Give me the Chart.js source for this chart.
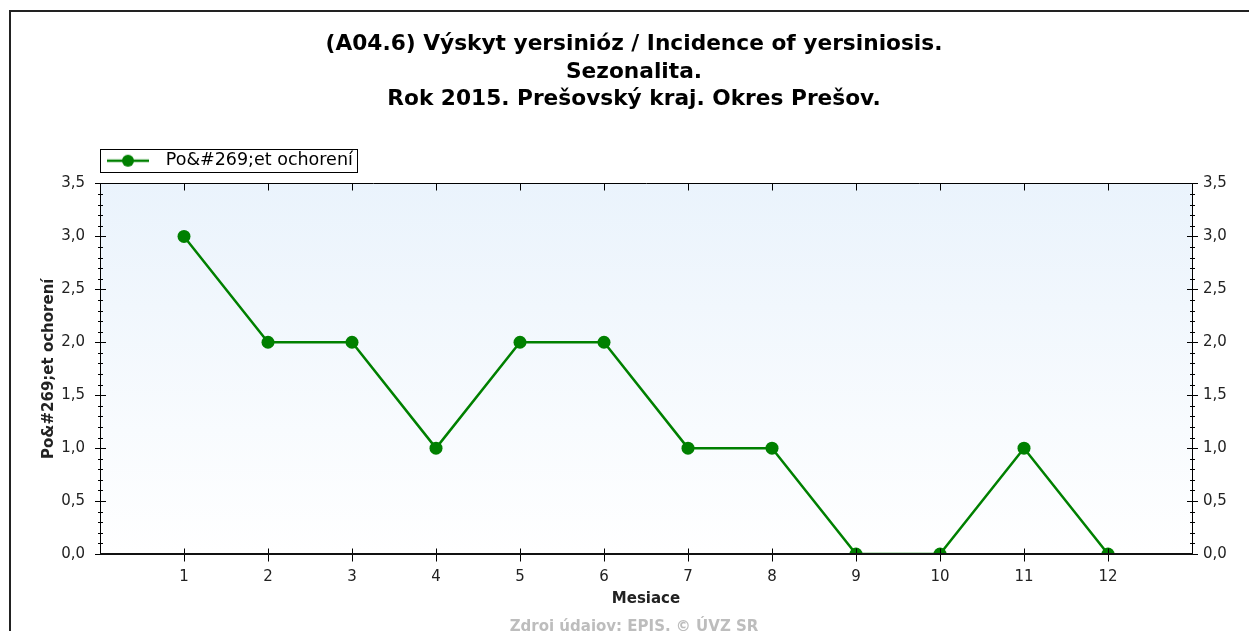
<!DOCTYPE html>
<html><head><meta charset="utf-8">
<script src="https://cdn.jsdelivr.net/npm/chart.js@4.4.1/dist/chart.umd.min.js"></script>
<style>html,body{margin:0;padding:0;background:#fff;overflow:hidden}</style>
</head><body>
<canvas id="c" width="1249" height="631"></canvas>
<script>
const titleLines = ['(A04.6) Výskyt yersinióz / Incidence of yersiniosis.', 'Sezonalita.', 'Rok 2015. Prešovský kraj. Okres Prešov.'];
const seriesName = 'Po&#269;et ochorení';
const months = [1, 2, 3, 4, 5, 6, 7, 8, 9, 10, 11, 12];
const cases = [3, 2, 2, 1, 2, 2, 1, 1, 0, 0, 1, 0];
const yMin = 0, yMax = 3.5, yStep = 0.5, yMinorStep = 0.1;
const xTitle = 'Mesiace';
const yTitle = 'Po&#269;et ochorení';
const footer = 'Zdroj údajov: EPIS. © ÚVZ SR';

const GREEN = '#008000';
const labels = [''].concat(months.map(String), ['']);
const values = [null].concat(cases, [null]);
const fmt = v => Number(v).toFixed(1).replace('.', ',');

Chart.defaults.font.family = "'DejaVu Sans', sans-serif";

// legend marker: line with a dot
const mk = document.createElement('canvas');
mk.width = 50; mk.height = 14;
(function () {
  const m = mk.getContext('2d');
  m.strokeStyle = GREEN; m.lineWidth = 2.5;
  m.beginPath(); m.moveTo(0, 7); m.lineTo(42, 7); m.stroke();
  m.fillStyle = GREEN; m.beginPath(); m.arc(21, 7, 6, 0, Math.PI * 2); m.fill();
})();

const frame = {
  id: 'frame',
  afterLayout(chart) {
    const lg = chart.legend;
    if (!lg) return;
    const pad = lg.options.labels.padding;
    const dx = chart.chartArea.left + 7 - (lg.left + pad);
    lg.left += dx; lg.right += dx;
    if (lg.legendHitBoxes) lg.legendHitBoxes.forEach(h => { h.left += dx; });
  },
  beforeDraw(chart) {
    const { ctx, width, height, chartArea: a } = chart;
    ctx.save();
    ctx.fillStyle = '#fff'; ctx.fillRect(0, 0, width, height);
    const g = ctx.createLinearGradient(0, a.top, 0, a.bottom);
    g.addColorStop(0, '#eaf3fc'); g.addColorStop(1, '#ffffff');
    ctx.fillStyle = g; ctx.fillRect(a.left, a.top, a.right - a.left, a.bottom - a.top);
    ctx.strokeStyle = '#222'; ctx.lineWidth = 2;
    ctx.beginPath(); ctx.moveTo(10, height + 5); ctx.lineTo(10, 11); ctx.lineTo(width + 5, 11); ctx.stroke();
    ctx.restore();
  },
  afterDatasetsDraw(chart) {
    const { ctx, chartArea: a, scales } = chart;
    const L = Math.round(a.left) + 0.5, R = Math.round(a.right) + 0.5;
    const T = Math.round(a.top) + 0.5, B = Math.round(a.bottom) + 0.5;
    ctx.save();
    ctx.strokeStyle = '#000'; ctx.lineWidth = 1;
    ctx.beginPath();
    ctx.moveTo(L, T); ctx.lineTo(R, T); ctx.lineTo(R, B); ctx.lineTo(L, B); ctx.closePath();
    const n = Math.round((yMax - yMin) / yMinorStep);
    const per = Math.round(yStep / yMinorStep);
    for (let k = 0; k <= n; k++) {
      const v = yMin + k * yMinorStep;
      const py = Math.round(scales.y.getPixelForValue(v)) + 0.5;
      const major = k % per === 0;
      const o = major ? 5.5 : 2.5;
      ctx.moveTo(L - o, py); ctx.lineTo(L + o, py);
      ctx.moveTo(R - o, py); ctx.lineTo(R + o, py);
    }
    for (let i = 1; i <= months.length; i++) {
      const px = Math.round(scales.x.getPixelForValue(i)) + 0.5;
      ctx.moveTo(px, B - 6); ctx.lineTo(px, B + 7);
      ctx.moveTo(px, T); ctx.lineTo(px, T + 7);
    }
    ctx.stroke();
    // heavier base line (covers marks lying on zero)
    ctx.lineWidth = 2;
    ctx.strokeStyle = '#111';
    ctx.beginPath();
    ctx.moveTo(L - 0.5, Math.round(a.bottom)); ctx.lineTo(R + 0.5, Math.round(a.bottom));
    ctx.stroke();
    ctx.restore();
  },
  afterDraw(chart) {
    const lg = chart.legend;
    if (!lg || !lg.options.display) return;
    const { ctx } = chart;
    const lo = lg.options.labels;
    const font = Chart.helpers.toFont(lo.font);
    ctx.save();
    ctx.font = font.string;
    const tw = ctx.measureText(seriesName).width;
    const x0 = lg.left + lo.padding;
    const cy = lg.top + lo.padding + font.size / 2;
    const left = chart.chartArea.left;
    const right = x0 + lo.pointStyleWidth + font.size / 2 + tw + 4;
    ctx.strokeStyle = '#000'; ctx.lineWidth = 1;
    ctx.strokeRect(Math.round(left) + 0.5, Math.round(cy - 11.5) + 0.5, Math.round(right - left), 23);
    ctx.restore();
  }
};

new Chart(document.getElementById('c'), {
  type: 'line',
  data: {
    labels: labels,
    datasets: [{
      label: seriesName,
      data: values,
      borderColor: GREEN,
      backgroundColor: GREEN,
      borderWidth: 2.5,
      pointRadius: 6.5,
      pointHoverRadius: 6.5,
      pointBackgroundColor: GREEN,
      pointBorderWidth: 0,
      tension: 0,
      clip: 0,
      fill: false
    }]
  },
  options: {
    responsive: false,
    animation: false,
    devicePixelRatio: 1,
    events: [],
    layout: { padding: { left: 19, right: 0, top: 10, bottom: -5.5 } },
    plugins: {
      tooltip: { enabled: false },
      title: {
        display: true,
        text: titleLines,
        color: '#000',
        font: { size: 21.7, weight: 'bold', lineHeight: 1.267 },
        padding: { top: 21, bottom: 30.5 }
      },
      subtitle: {
        display: true,
        position: 'bottom',
        text: footer,
        color: '#bdbdbd',
        font: { size: 15, weight: 'bold', lineHeight: 1.2 },
        padding: { top: 4, bottom: 0 }
      },
      legend: {
        display: true,
        position: 'top',
        align: 'start',
        labels: {
          color: '#000',
          font: { size: 17.5 },
          padding: 8,
          usePointStyle: true,
          pointStyleWidth: 50,
          generateLabels(chart) {
            const items = Chart.defaults.plugins.legend.labels.generateLabels(chart);
            items.forEach(it => { it.pointStyle = mk; it.lineWidth = 0; });
            return items;
          }
        }
      }
    },
    scales: {
      x: {
        type: 'category',
        position: 'bottom',
        grid: { display: false, drawTicks: false },
        border: { display: false },
        ticks: { color: '#222', font: { size: 15 }, padding: 14.5, autoSkip: false, maxRotation: 0 },
        title: { display: true, text: xTitle, color: '#222', font: { size: 15, weight: 'bold', lineHeight: 1.2 }, padding: { top: 0, bottom: 6 } },
        afterFit(s) { s.height = 60.5; }
      },
      x2: {
        type: 'category',
        position: 'top',
        grid: { display: false, drawTicks: false },
        border: { display: false },
        ticks: { display: false },
        afterFit(s) { s.height = 4; }
      },
      y: {
        type: 'linear',
        position: 'left',
        min: yMin, max: yMax,
        grid: { display: false, drawTicks: false },
        border: { display: false },
        ticks: { stepSize: yStep, color: '#222', font: { size: 15 }, padding: 15, callback: v => fmt(v) },
        title: { display: true, text: yTitle, color: '#222', font: { size: 15, weight: 'bold', lineHeight: 1.2 }, padding: { top: 21, bottom: 0 } },
        afterFit(s) { s.width = 81; }
      },
      y2: {
        type: 'linear',
        position: 'right',
        min: yMin, max: yMax,
        grid: { display: false, drawTicks: false },
        border: { display: false },
        ticks: { stepSize: yStep, color: '#222', font: { size: 15 }, padding: 11, callback: v => fmt(v) },
        afterFit(s) { s.width = 57; }
      }
    }
  },
  plugins: [frame]
});
</script>
</body></html>
